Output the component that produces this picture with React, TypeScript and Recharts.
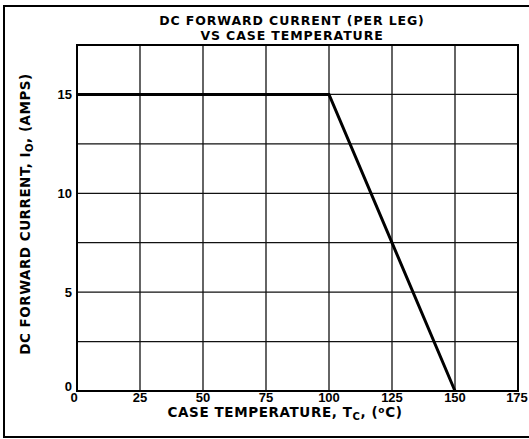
import { CartesianGrid, Line, LineChart, ReferenceArea, XAxis, YAxis } from "recharts";

// derating curve
const caseTemp = [0, 100, 150];
const forwardCurrent = [15, 15, 0];

const xTicks = [0, 25, 50, 75, 100, 125, 150, 175];
const yGrid = [0, 2.5, 5, 7.5, 10, 12.5, 15, 17.5];
const yLabeled = [0, 5, 10, 15];

const data = caseTemp.map((t, i) => ({ t, amps: forwardCurrent[i] }));

const W = 529;
const H = 439;
const labelFont = "'DejaVu Sans', sans-serif";
const tickFont = "'Liberation Sans', Arial, sans-serif";

function XTick(props: any) {
  const { x, y, payload } = props;
  const dx = payload.value === 0 ? -3 : 0;
  return (
    <text x={x + dx} y={y + 11} textAnchor="middle" fontFamily={tickFont} fontWeight={700} fontSize={13} fill="#000">
      {payload.value}
    </text>
  );
}

function YTick(props: any) {
  const { x, y, payload } = props;
  if (!yLabeled.includes(payload.value)) return <g />;
  const dy = payload.value === 0 ? 0 : 4.5;
  return (
    <text x={x - 5} y={y + dy} textAnchor="end" fontFamily={tickFont} fontWeight={700} fontSize={13} fill="#000">
      {payload.value}
    </text>
  );
}

export default function App() {
  return (
    <div style={{ position: "absolute", left: 0, top: 0, width: W, height: H, background: "#fff" }}>
      <LineChart width={W} height={H} data={data} margin={{ top: 45, right: 11, bottom: 0, left: 0 }}>
        <CartesianGrid stroke="#111" strokeWidth={1.3} />
        <XAxis
          dataKey="t"
          type="number"
          domain={[0, 175]}
          ticks={xTicks}
          height={48}
          axisLine={false}
          tickLine={false}
          tickSize={0}
          tickMargin={0}
          tick={<XTick />}
        />
        <YAxis
          type="number"
          domain={[0, 17.5]}
          ticks={yGrid}
          width={77}
          axisLine={false}
          tickLine={false}
          tickSize={0}
          tickMargin={0}
          tick={<YTick />}
        />
        <ReferenceArea x1={0} x2={175} y1={0} y2={17.5} fill="none" fillOpacity={0} stroke="#000" strokeWidth={2} />
        <Line
          type="linear"
          dataKey="amps"
          stroke="#000"
          strokeWidth={3}
          dot={false}
          activeDot={false}
          isAnimationActive={false}
        />
      </LineChart>
      <svg width={W} height={H} style={{ position: "absolute", left: 0, top: 0, pointerEvents: "none" }}>
        <rect x={4} y={6} width={560} height={431} fill="none" stroke="#000" strokeWidth={2} />
        <g fontFamily={labelFont} fontWeight={700} fill="#000" textAnchor="middle">
          <text x={292} y={25} fontSize={12.5} letterSpacing={0.9}>DC FORWARD CURRENT (PER LEG)</text>
          <text x={292} y={40} fontSize={12.5} letterSpacing={0.9}>VS CASE TEMPERATURE</text>
          <text x={285} y={417} fontSize={13.5} letterSpacing={0.6}>
            CASE TEMPERATURE, T
            <tspan fontSize={10} dy={3}>C</tspan>
            <tspan dy={-3}>, (</tspan>
            <tspan fontSize={9} dy={-4}>o</tspan>
            <tspan dy={4}>C)</tspan>
          </text>
          <text transform="translate(30,214) rotate(-90)" fontSize={13.5} letterSpacing={0.5}>
            DC FORWARD CURRENT, I
            <tspan fontSize={10} dy={3}>O</tspan>
            <tspan dy={-3}>, (AMPS)</tspan>
          </text>
        </g>
      </svg>
    </div>
  );
}
